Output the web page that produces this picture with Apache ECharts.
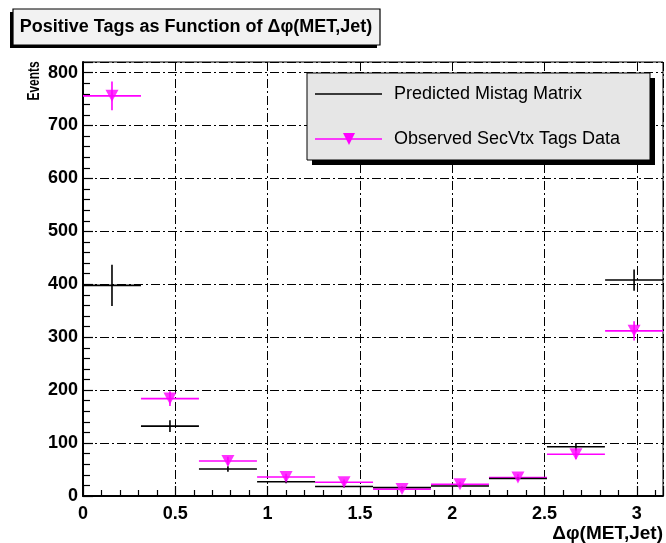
<!DOCTYPE html>
<html>
<head>
<meta charset="utf-8">
<script src="https://cdn.jsdelivr.net/npm/echarts@6/dist/echarts.min.js"></script>
<style>
  html, body { margin: 0; padding: 0; background: #fff; }
  #chart { width: 666px; height: 543px; }
</style>
</head>
<body>
<div id="chart"></div>
<script>
// bins in delta phi (0..pi, 10 bins)
var binCenters = [0.157, 0.471, 0.785, 1.100, 1.414, 1.728, 2.042, 2.356, 2.670, 2.985];
var binHalf = 0.157;

// Predicted Mistag Matrix
var predicted = [398, 132, 51, 27, 18, 16, 19, 33, 93, 408];
var predictedErr = [39, 11, 5, 3, 2, 2, 2, 3, 7, 20];

// Observed SecVtx Tags Data
var observed = [756, 184, 66, 36, 26, 13, 22, 35, 79, 312];
var observedErr = [27, 14, 8, 6, 5, 4, 5, 6, 9, 18];

var xTicks = [0, 0.5, 1, 1.5, 2, 2.5, 3];
var yTicks = [0, 100, 200, 300, 400, 500, 600, 700, 800];

var FONT = 'Liberation Sans';
var MAGENTA = '#ff00ff';

var chart = echarts.init(document.getElementById('chart'));

function rows(vals, errs) {
    return binCenters.map(function (c, i) {
        return [c, vals[i], errs[i]];
    });
}

function errorBars(color) {
    return function (params, api) {
        var x = api.value(0), y = api.value(1), e = api.value(2);
        var l = api.coord([x - binHalf, y]);
        var r = api.coord([x + binHalf, y]);
        var t = api.coord([x, y + e]);
        var b = api.coord([x, y - e]);
        return {
            type: 'group',
            children: [
                { type: 'line', shape: { x1: l[0], y1: l[1], x2: r[0], y2: r[1] }, style: { stroke: color, lineWidth: 1.6 } },
                { type: 'line', shape: { x1: t[0], y1: t[1], x2: b[0], y2: b[1] }, style: { stroke: color, lineWidth: 1.6 } }
            ]
        };
    };
}

var gridDash = [9, 3, 2, 3];

var option = {
    backgroundColor: '#fff',
    animation: false,
    grid: {
        left: 83, right: 3, top: 62, bottom: 47,
        show: true, borderColor: '#000', borderWidth: 1, backgroundColor: '#fff'
    },
    xAxis: {
        type: 'value',
        min: 0, max: Math.PI, interval: 0.5,
        axisLine: { show: true, lineStyle: { color: '#000', width: 2 } },
        axisTick: { show: true, inside: true, length: 10, lineStyle: { color: '#000', width: 1.2 } },
        minorTick: { show: true, splitNumber: 5, length: 6, lineStyle: { color: '#000', width: 1.2 } },
        splitLine: { show: true, lineStyle: { color: '#000', width: 1, type: gridDash } },
        axisLabel: {
            showMaxLabel: false, margin: 9,
            color: '#000', fontFamily: FONT, fontWeight: 'bold', fontSize: 18,
            formatter: function (v) { return xTicks.indexOf(v) >= 0 ? String(v) : ''; }
        },
        name: 'Δφ(MET,Jet)', nameLocation: 'end', nameGap: 0,
        nameTextStyle: {
            color: '#000', fontFamily: FONT, fontWeight: 'bold', fontSize: 19,
            align: 'right', verticalAlign: 'top', padding: [28, 0, 0, 0]
        }
    },
    yAxis: {
        type: 'value',
        min: 0, max: 820, interval: 100,
        axisLine: { show: true, lineStyle: { color: '#000', width: 2 } },
        axisTick: { show: true, inside: true, length: 10, lineStyle: { color: '#000', width: 1.2 } },
        minorTick: { show: true, splitNumber: 5, length: 7, lineStyle: { color: '#000', width: 1.2 } },
        splitLine: { show: true, lineStyle: { color: '#000', width: 1, type: gridDash } },
        axisLabel: {
            showMaxLabel: false, margin: 5,
            color: '#000', fontFamily: FONT, fontWeight: 'bold', fontSize: 18,
            formatter: function (v) { return yTicks.indexOf(v) >= 0 ? String(v) : ''; }
        }
    },
    series: [
        {
            name: 'Observed SecVtx Tags Data',
            type: 'custom',
            renderItem: errorBars(MAGENTA),
            data: rows(observed, observedErr),
            encode: { x: 0, y: 1 },
            clip: true,
            z: 3
        },
        {
            name: 'Predicted Mistag Matrix',
            type: 'custom',
            renderItem: errorBars('#000'),
            data: rows(predicted, predictedErr),
            encode: { x: 0, y: 1 },
            clip: true,
            z: 4
        },
        {
            name: 'Observed markers',
            type: 'scatter',
            symbol: 'triangle',
            symbolRotate: 180,
            symbolSize: [13, 12],
            itemStyle: { color: MAGENTA },
            data: binCenters.map(function (c, i) { return [c, observed[i]]; }),
            z: 5
        }
    ],
    graphic: [
        // title box
        { type: 'rect', shape: { x: 10, y: 12, width: 367, height: 36 }, style: { fill: '#000' }, z: 10 },
        { type: 'rect', shape: { x: 13, y: 9, width: 367, height: 36 }, style: { fill: '#f2f2f2', stroke: '#000', lineWidth: 1.2 }, z: 11 },
        {
            type: 'text', x: 196, y: 27, z: 12,
            style: {
                text: 'Positive Tags as Function of Δφ(MET,Jet)',
                fill: '#000', font: 'bold 18px "Liberation Sans"',
                align: 'center', verticalAlign: 'middle'
            }
        },
        // "Events" y label
        {
            type: 'text', x: 34, y: 81, rotation: Math.PI / 2, scaleX: 0.7, z: 12,
            style: {
                text: 'Events', fill: '#000', font: 'bold 17px "Liberation Sans"',
                align: 'center', verticalAlign: 'middle'
            }
        },
        // legend box
        { type: 'rect', shape: { x: 312, y: 78, width: 343, height: 87 }, style: { fill: '#000' }, z: 20 },
        { type: 'rect', shape: { x: 307, y: 73, width: 343, height: 87 }, style: { fill: '#e6e6e6', stroke: '#000', lineWidth: 1 }, z: 21 },
        { type: 'line', shape: { x1: 315, y1: 94, x2: 382, y2: 94 }, style: { stroke: '#000', lineWidth: 1.5 }, z: 22 },
        {
            type: 'text', x: 394, y: 94, z: 22,
            style: { text: 'Predicted Mistag Matrix', fill: '#000', font: '18px "Liberation Sans"', verticalAlign: 'middle' }
        },
        { type: 'line', shape: { x1: 315, y1: 139, x2: 382, y2: 139 }, style: { stroke: MAGENTA, lineWidth: 1.5 }, z: 22 },
        { type: 'polygon', shape: { points: [[343, 133], [355, 133], [349, 145]] }, style: { fill: MAGENTA }, z: 23 },
        {
            type: 'text', x: 394, y: 139, z: 22,
            style: { text: 'Observed SecVtx Tags Data', fill: '#000', font: '18px "Liberation Sans"', verticalAlign: 'middle' }
        }
    ]
};

chart.setOption(option);
</script>
</body>
</html>
